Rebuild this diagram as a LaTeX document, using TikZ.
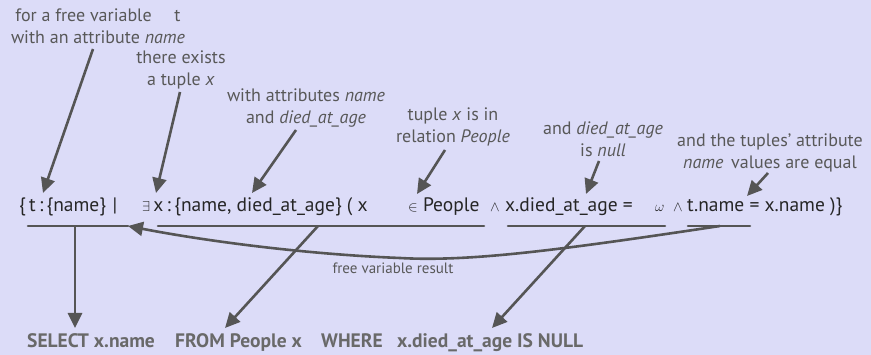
\documentclass[tikz,border=0pt]{standalone}
\usepackage{fontspec}
\setmainfont{PT Sans}
\usetikzlibrary{arrows.meta}
\definecolor{bg}{RGB}{220,220,248}
\definecolor{ink}{RGB}{85,85,85}
\definecolor{txt}{RGB}{88,88,88}
\definecolor{btxt}{RGB}{105,105,105}
\newcommand{\symb}[1]{{\fontsize{15}{17}\selectfont$#1$}}
\begin{document}
\begin{tikzpicture}[x=1pt,y=-1pt,
  lbl/.style={text=txt,align=center,font=\fontsize{18}{21.5}\selectfont,inner sep=0},
  fml/.style={text=black!85,anchor=base west,font=\fontsize{19.5}{22}\selectfont,inner sep=0},
  btm/.style={text=btxt,anchor=base west,font=\fontsize{19.5}{22}\selectfont\bfseries,inner sep=0},
  arr/.style={draw=ink,line width=2.6pt,-{Triangle[length=15pt,width=14pt]}},
  seg/.style={draw=ink,line width=2.6pt,line cap=round}]
\fill[bg] (0,0) rectangle (871,355);
\useasboundingbox (0,0) rectangle (871,355);
% labels
\node[lbl] (l1) at (98,26) {for a free variable \quad t\\with an attribute \textit{name}};
\node[lbl] (l2) at (181,70) {there exists\\a tuple \textit{x}};
\node[lbl] (l3) at (306,108) {with attributes \textit{name}\\and \textit{died\_at\_age}};
\node[lbl] (l4) at (453,127) {tuple \textit{x} is in\\relation \textit{People}};
\node[lbl] (l5) at (603,139) {and \textit{died\_at\_age}\\is \textit{null}};
\node[lbl] (l6) at (770,153) {and the tuples' attribute\\\textit{name} \,values are equal};
% formula
\node[fml] (f1) at (19,212) {\{\,t\,:\,\{name\}\,\,|};
\node[fml] (f2) at (142,212) {\symb{\exists}\,x\,:\,\{name, died\_at\_age\} ( x};
\node[fml] (f3) at (408,212) {\symb{\in} People};
\node[fml] (f4) at (490,212) {\symb{\wedge}};
\node[fml] (f5) at (505,212) {x.died\_at\_age =};
\node[fml] (f6) at (655,212) {\symb{\omega}};
\node[fml] (f7) at (673,212) {\symb{\wedge}};
\node[fml] (f8) at (687,212) {t.name = x.name )\}};
% underline segments
\coordinate (s1a) at (28,226); \coordinate (s1b) at (128,226);
\coordinate (s2a) at (158,226); \coordinate (s2b) at (484,226);
\coordinate (s3a) at (508,226); \coordinate (s3b) at (665,226);
\coordinate (s4a) at (688,226); \coordinate (s4b) at (750,226);
\draw[seg] (s1a) -- (s1b);
\draw[seg] (s2a) -- (s2b);
\draw[seg] (s3a) -- (s3b);
\draw[seg] (s4a) -- (s4b);
% arrows from labels
\coordinate (a1s) at (93,49);  \coordinate (a1e) at (43,193);
\coordinate (a2s) at (180,92); \coordinate (a2e) at (156,193);
\coordinate (a3s) at (296,130); \coordinate (a3e) at (252,193);
\coordinate (a4s) at (445,150); \coordinate (a4e) at (417,194);
\coordinate (a5s) at (599,161); \coordinate (a5e) at (586,194);
\coordinate (a6s) at (768,173); \coordinate (a6e) at (747,196);
\draw[arr] (a1s) -- (a1e);
\draw[arr] (a2s) -- (a2e);
\draw[arr] (a3s) -- (a3e);
\draw[arr] (a4s) -- (a4e);
\draw[arr] (a5s) -- (a5e);
\draw[arr] (a6s) -- (a6e);
% bottom arrows
\coordinate (b1s) at (75,226);  \coordinate (b1e) at (75,328);
\coordinate (b2s) at (318,226); \coordinate (b2e) at (225,328);
\coordinate (b3s) at (585,226); \coordinate (b3e) at (492,328);
\draw[arr] (b1s) -- (b1e);
\draw[arr] (b2s) -- (b2e);
\draw[arr] (b3s) -- (b3e);
% curved result arrow
\coordinate (cs) at (720,226);
\draw[arr] (cs) .. controls (560,250) and (470,262) .. (400,258)
  .. controls (300,254) and (200,240) .. (s1b);
\node[text=txt,font=\fontsize{15}{17}\selectfont,inner sep=0] (res) at (393,268) {free variable result};
% bottom SQL
\node[btm] (q1) at (27,348) {SELECT x.name};
\node[btm] (q2) at (175,348) {FROM People x};
\node[btm] (q3) at (321,348) {WHERE};
\node[btm] (q4) at (397,348) {x.died\_at\_age IS NULL};
\end{tikzpicture}
\end{document}
